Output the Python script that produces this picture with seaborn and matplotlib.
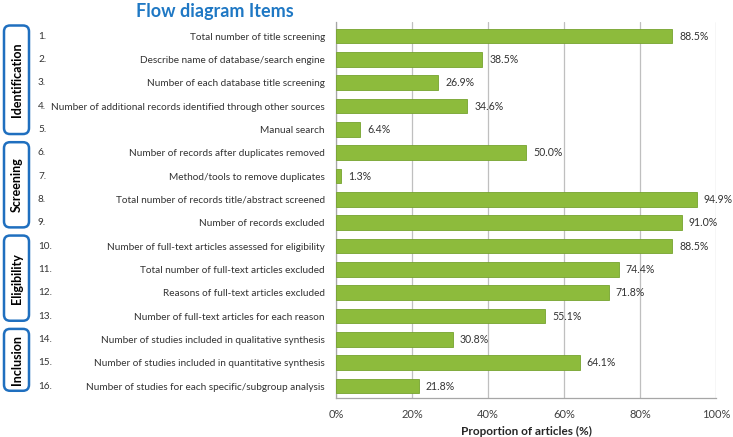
import matplotlib
matplotlib.use("Agg")
import matplotlib.pyplot as plt
import seaborn as sns
import pandas as pd
from matplotlib.patches import FancyBboxPatch
from matplotlib.transforms import IdentityTransform
from matplotlib.ticker import PercentFormatter

# Datos
numbers = [f"{i}." for i in range(1, 17)]
items = [
    "Total number of title screening",
    "Describe name of database/search engine",
    "Number of each database title screening",
    "Number of additional records identified through other sources",
    "Manual search",
    "Number of records after duplicates removed",
    "Method/tools to remove duplicates",
    "Total number of records title/abstract screened",
    "Number of records excluded",
    "Number of full-text articles assessed for eligibility",
    "Total number of full-text articles excluded",
    "Reasons of full-text articles excluded",
    "Number of full-text articles for each reason",
    "Number of studies included in qualitative synthesis",
    "Number of studies included in quantitative synthesis",
    "Number of studies for each specific/subgroup analysis",
]
values = [88.5, 38.5, 26.9, 34.6, 6.4, 50.0, 1.3, 94.9, 91.0, 88.5, 74.4, 71.8, 55.1, 30.8, 64.1, 21.8]
groups = ["Identification", "Screening", "Eligibility", "Inclusion"]
group_spans = [(0, 4), (5, 8), (9, 12), (13, 15)]

data = pd.DataFrame({"item": items, "value": values})

sns.set_style("white")
plt.rcParams["font.family"] = ["Lato", "DejaVu Sans"]

fig = plt.figure(figsize=(7.33, 4.37), dpi=100)
ax = fig.add_axes([336 / 733, 1 - 398 / 437, 380 / 733, 376 / 437])

sns.barplot(data=data, x="value", y="item", orient="h", color="#8dbb3c", saturation=1,
            edgecolor="#76a32e", linewidth=0.6, width=0.63, ax=ax, zorder=3)

ax.set_xlim(0, 100)
ax.set_ylim(15.51, -0.6)
ax.xaxis.set_major_formatter(PercentFormatter(decimals=0))
ax.set_xticks(range(0, 101, 20))
ax.grid(axis="x", color="#bfbfbf", linewidth=0.9, zorder=0)
ax.tick_params(axis="x", labelsize=8, length=0, pad=8, colors="#404040")
ax.tick_params(axis="y", labelsize=7.2, length=0, pad=8, colors="#333333")
ax.set_xlabel("Proportion of articles (%)", fontsize=8.5, fontweight="bold", labelpad=4)
ax.set_ylabel("")
for s in ["top", "right"]:
    ax.spines[s].set_visible(False)
for s in ["left", "bottom"]:
    ax.spines[s].set_color("#a6a6a6")
    ax.spines[s].set_linewidth(0.9)

# Etiquetas de valor
for p, v in zip(ax.patches, values):
    ax.annotate(f"{v:.1f}%", (p.get_width(), p.get_y() + p.get_height() / 2),
                xytext=(5, 0), textcoords="offset points", ha="left", va="center",
                fontsize=7.6, color="#333333")

# Numeros de item
for i, n in enumerate(numbers):
    ax.text(-298 / 380, i, n, transform=ax.get_yaxis_transform(), ha="left", va="center",
            fontsize=7.2, color="#333333")

# Cajas de grupo
fig.canvas.draw()
for g, (a, b) in zip(groups, group_spans):
    y_top = ax.transData.transform((0, a - 0.45))[1]
    y_bot = ax.transData.transform((0, b + 0.2))[1]
    box = FancyBboxPatch((4, y_bot), 25, y_top - y_bot,
                         boxstyle="round,pad=0,rounding_size=6",
                         transform=IdentityTransform(), fill=False,
                         edgecolor="#1f6fbf", linewidth=1.8, figure=fig)
    fig.patches.append(box)
    fig.text(17 / 733, (y_top + y_bot) / 2 / 437, g, rotation=90, ha="center", va="center",
             fontsize=9, fontweight="bold", color="black")

fig.text(215 / 733, 1 - 12 / 437, "Flow diagram Items", ha="center", va="center",
         fontsize=13, fontweight="bold", color="#1f78c4")

fig.savefig("out.png", dpi=100)
